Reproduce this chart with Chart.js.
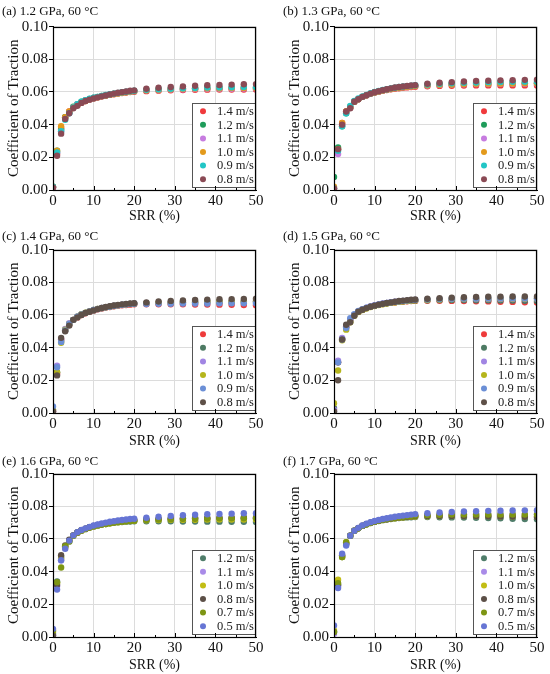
<!DOCTYPE html>
<html>
<head>
<meta charset="utf-8">
<script src="https://cdn.jsdelivr.net/npm/chart.js@4.4.1/dist/chart.umd.min.js"></script>
<style>
  body { margin: 0; background: #fff; }
  #wrap { position: relative; width: 550px; height: 674px; overflow: hidden; }
  .panel { position: absolute; }
</style>
</head>
<body>
<div id="wrap"></div>
<script>
// SRR (%) values where traction was measured
const srr = [0,1,2,3,4,5,6,7,8,9,10,11,12,13,14,15,16,17,18,19,20,23,26,29,32,35,38,41,44,47,50];

const panelTitles = [
  "(a) 1.2 GPa, 60 \u00B0C", "(b) 1.3 GPa, 60 \u00B0C",
  "(c) 1.4 GPa, 60 \u00B0C", "(d) 1.5 GPa, 60 \u00B0C",
  "(e) 1.6 GPa, 60 \u00B0C", "(f) 1.7 GPa, 60 \u00B0C"
];

const speedsHigh = ["1.4 m/s", "1.2 m/s", "1.1 m/s", "1.0 m/s", "0.9 m/s", "0.8 m/s"];
const speedsLow = ["1.2 m/s", "1.1 m/s", "1.0 m/s", "0.8 m/s", "0.7 m/s", "0.5 m/s"];

const colorsAB = ["#f0393c", "#1e9c5a", "#c77ce0", "#e39a1c", "#22c6c6", "#8a4a55"];
const colorsCD = ["#ee3b3b", "#4d7a63", "#a185e3", "#b5b51c", "#6b8fd6", "#5e5048"];
const colorsEF = ["#4f7d6a", "#a98be8", "#c2bd15", "#5c4f47", "#7d9514", "#6675d4"];

const yTicks = [0, 0.02, 0.04, 0.06, 0.08, 0.10];
const xTicks = [0, 10, 20, 30, 40, 50];

// (a) 1.2 GPa
const cotA = [
  [0.0015,0.022,0.038,0.0445,0.048,0.0505,0.052,0.0535,0.0545,0.0555,0.0562,0.0568,0.0573,0.0578,0.0582,0.0586,0.059,0.0593,0.0596,0.0599,0.0601,0.0605,0.0608,0.061,0.0612,0.0613,0.0614,0.0615,0.0615,0.0615,0.0615],
  [0.002,0.024,0.037,0.0445,0.0475,0.051,0.0525,0.054,0.055,0.0557,0.0565,0.057,0.0575,0.058,0.0585,0.0589,0.0593,0.0597,0.06,0.0603,0.0606,0.0612,0.0615,0.0618,0.062,0.0622,0.0623,0.0624,0.0625,0.0625,0.0626],
  [0.0015,0.023,0.036,0.044,0.047,0.0505,0.0525,0.0535,0.0548,0.0556,0.0563,0.0568,0.0574,0.0579,0.0584,0.0588,0.0592,0.0596,0.0599,0.0602,0.0605,0.061,0.0613,0.0615,0.0617,0.0618,0.0619,0.062,0.062,0.0621,0.0621],
  [0.002,0.024,0.039,0.0445,0.048,0.0505,0.052,0.0535,0.0545,0.0555,0.0562,0.0567,0.0573,0.0578,0.0583,0.0587,0.0591,0.0595,0.0598,0.0602,0.0605,0.061,0.0614,0.0617,0.0619,0.0621,0.0622,0.0623,0.0624,0.0625,0.0625],
  [0.002,0.023,0.036,0.043,0.047,0.0505,0.0525,0.054,0.055,0.0558,0.0565,0.057,0.0576,0.0581,0.0586,0.059,0.0594,0.0598,0.0601,0.0604,0.0607,0.0613,0.0617,0.062,0.0623,0.0625,0.0627,0.0628,0.0629,0.063,0.063],
  [0.0015,0.021,0.0345,0.0435,0.047,0.05,0.0515,0.0533,0.0545,0.0553,0.056,0.0567,0.0573,0.0579,0.0585,0.059,0.0595,0.0599,0.0603,0.0607,0.061,0.062,0.0626,0.063,0.0634,0.0638,0.0641,0.0643,0.0645,0.0647,0.0648]
];

// (b) 1.3 GPa
const cotB = [
  [0.001,0.025,0.041,0.048,0.0505,0.054,0.0555,0.057,0.058,0.059,0.0597,0.0602,0.0607,0.0612,0.0616,0.062,0.0623,0.0626,0.0628,0.063,0.0632,0.0635,0.0637,0.0638,0.0639,0.064,0.064,0.064,0.064,0.064,0.064],
  [0.008,0.026,0.039,0.047,0.051,0.054,0.0555,0.057,0.058,0.059,0.0598,0.0604,0.061,0.0615,0.062,0.0624,0.0627,0.063,0.0633,0.0636,0.0638,0.0642,0.0645,0.0647,0.0649,0.065,0.0651,0.0652,0.0652,0.0653,0.0653],
  [0.001,0.022,0.04,0.0475,0.0505,0.054,0.0555,0.057,0.058,0.059,0.0597,0.0603,0.0609,0.0614,0.0618,0.0622,0.0626,0.0629,0.0632,0.0634,0.0636,0.064,0.0643,0.0645,0.0647,0.0648,0.0649,0.065,0.065,0.0651,0.0651],
  [0.002,0.025,0.041,0.048,0.0505,0.054,0.0555,0.057,0.058,0.059,0.0597,0.0603,0.0609,0.0614,0.0618,0.0622,0.0626,0.0629,0.0632,0.0634,0.0636,0.0641,0.0644,0.0646,0.0648,0.065,0.0651,0.0652,0.0652,0.0653,0.0653],
  [0.001,0.024,0.039,0.047,0.0515,0.0545,0.056,0.0572,0.0582,0.0592,0.06,0.0606,0.0612,0.0617,0.0622,0.0626,0.063,0.0633,0.0636,0.0639,0.0641,0.0646,0.065,0.0653,0.0656,0.0658,0.066,0.0661,0.0662,0.0663,0.0663],
  [0.001,0.025,0.04,0.048,0.05,0.054,0.0555,0.057,0.058,0.059,0.0598,0.0605,0.0611,0.0617,0.0622,0.0627,0.063,0.0634,0.0637,0.064,0.0642,0.065,0.0656,0.066,0.0664,0.0667,0.0669,0.0671,0.0672,0.0674,0.0675]
];

// (c) 1.4 GPa
const cotC = [
  [0.001,0.024,0.045,0.0505,0.054,0.057,0.0585,0.06,0.061,0.062,0.0628,0.0635,0.064,0.0645,0.0649,0.0653,0.0656,0.0659,0.0661,0.0663,0.0665,0.0665,0.0665,0.0665,0.0665,0.0664,0.0664,0.0663,0.0662,0.0661,0.066],
  [0.002,0.025,0.044,0.0505,0.0545,0.057,0.059,0.0603,0.0613,0.0622,0.063,0.0637,0.0643,0.0648,0.0652,0.0656,0.066,0.0663,0.0666,0.0668,0.067,0.0672,0.0674,0.0676,0.0677,0.0678,0.0679,0.068,0.068,0.068,0.068],
  [0.001,0.029,0.045,0.0515,0.055,0.057,0.059,0.0603,0.0613,0.0622,0.063,0.0637,0.0643,0.0648,0.0652,0.0656,0.066,0.0663,0.0666,0.0668,0.067,0.0673,0.0676,0.0678,0.068,0.0681,0.0682,0.0683,0.0683,0.0684,0.0684],
  [0.002,0.025,0.043,0.051,0.0545,0.057,0.059,0.0605,0.0614,0.0622,0.063,0.0637,0.0642,0.0647,0.0651,0.0655,0.0659,0.0662,0.0665,0.0667,0.0669,0.0672,0.0675,0.0677,0.0679,0.068,0.0681,0.0682,0.0682,0.0683,0.0683],
  [0.004,0.028,0.0435,0.0505,0.0545,0.057,0.059,0.0603,0.0613,0.0622,0.063,0.0636,0.0642,0.0647,0.0651,0.0655,0.0659,0.0662,0.0665,0.0667,0.0669,0.0667,0.0668,0.0669,0.067,0.067,0.067,0.0671,0.0671,0.0671,0.0671],
  [0.001,0.023,0.046,0.05,0.0535,0.057,0.0585,0.06,0.0612,0.062,0.0628,0.0636,0.0643,0.0649,0.0654,0.0658,0.0662,0.0665,0.0668,0.067,0.0672,0.0677,0.0682,0.0686,0.0689,0.0692,0.0694,0.0696,0.0697,0.0698,0.0699]
];

// (d) 1.5 GPa
const cotD = [
  [0.002,0.031,0.045,0.053,0.057,0.06,0.062,0.0632,0.0642,0.065,0.0657,0.0662,0.0667,0.0671,0.0674,0.0677,0.068,0.0682,0.0684,0.0685,0.0686,0.0687,0.0687,0.0686,0.0685,0.0684,0.0683,0.0681,0.068,0.0678,0.0677],
  [0.003,0.031,0.0455,0.0525,0.0565,0.06,0.062,0.0632,0.0642,0.065,0.0657,0.0663,0.0668,0.0672,0.0676,0.0679,0.0682,0.0684,0.0686,0.0688,0.0689,0.069,0.0691,0.0691,0.0691,0.069,0.069,0.0689,0.0688,0.0687,0.0686],
  [0.002,0.032,0.046,0.053,0.057,0.06,0.0622,0.0634,0.0644,0.0652,0.0659,0.0665,0.067,0.0674,0.0678,0.0681,0.0684,0.0686,0.0688,0.069,0.0692,0.0694,0.0696,0.0697,0.0698,0.0698,0.0698,0.0698,0.0698,0.0698,0.0698],
  [0.006,0.026,0.0445,0.051,0.0555,0.0595,0.0618,0.063,0.064,0.0648,0.0655,0.0661,0.0666,0.067,0.0674,0.0677,0.068,0.0683,0.0685,0.0687,0.0689,0.0692,0.0695,0.0697,0.0699,0.07,0.07,0.0701,0.0701,0.0701,0.0701],
  [0.001,0.031,0.045,0.052,0.058,0.0605,0.0625,0.0635,0.0645,0.0652,0.0658,0.0664,0.0669,0.0673,0.0677,0.068,0.0683,0.0686,0.0688,0.069,0.0692,0.0695,0.0697,0.0699,0.07,0.0701,0.0702,0.0702,0.0703,0.0703,0.0703],
  [0.001,0.02,0.045,0.054,0.0555,0.0595,0.062,0.0632,0.0642,0.065,0.0657,0.0663,0.0668,0.0673,0.0677,0.0681,0.0685,0.0688,0.0691,0.0693,0.0695,0.0699,0.0703,0.0706,0.0708,0.071,0.0711,0.0712,0.0713,0.0713,0.0713]
];

// (e) 1.6 GPa
const cotE = [
  [0.002,0.034,0.049,0.0555,0.0585,0.062,0.0637,0.065,0.066,0.067,0.0677,0.0683,0.0688,0.0692,0.0696,0.0699,0.0702,0.0704,0.0706,0.0707,0.0708,0.0708,0.0708,0.0708,0.0707,0.0707,0.0706,0.0706,0.0705,0.0705,0.0704],
  [0.001,0.031,0.047,0.0545,0.059,0.0622,0.064,0.0653,0.0663,0.0672,0.068,0.0686,0.0691,0.0696,0.07,0.0704,0.0707,0.071,0.0712,0.0714,0.0716,0.0719,0.0721,0.0723,0.0724,0.0725,0.0725,0.0726,0.0726,0.0726,0.0726],
  [0.003,0.033,0.048,0.055,0.059,0.062,0.0638,0.0651,0.0661,0.067,0.0677,0.0683,0.0688,0.0692,0.0696,0.07,0.0703,0.0705,0.0708,0.071,0.0711,0.0714,0.0716,0.0717,0.0718,0.0718,0.0719,0.0719,0.0719,0.0719,0.0719],
  [0.001,0.032,0.05,0.056,0.0595,0.0622,0.064,0.0653,0.0663,0.0672,0.0679,0.0685,0.069,0.0695,0.0699,0.0703,0.0706,0.0709,0.0712,0.0714,0.0716,0.072,0.0723,0.0725,0.0727,0.0728,0.0729,0.073,0.073,0.0731,0.0731],
  [0.004,0.0335,0.0425,0.0555,0.0585,0.062,0.064,0.0652,0.0662,0.067,0.0677,0.0683,0.0688,0.0692,0.0696,0.07,0.0703,0.0706,0.0708,0.071,0.0712,0.0716,0.0719,0.0721,0.0723,0.0724,0.0725,0.0726,0.0727,0.0727,0.0727],
  [0.005,0.029,0.047,0.054,0.059,0.0622,0.0642,0.0655,0.0665,0.0674,0.0682,0.0689,0.0695,0.07,0.0705,0.0709,0.0713,0.0716,0.0719,0.0722,0.0724,0.073,0.0736,0.0741,0.0745,0.0748,0.0751,0.0753,0.0755,0.0757,0.0758]
];

// (f) 1.7 GPa
const cotF = [
  [0.003,0.032,0.049,0.057,0.062,0.065,0.0665,0.068,0.069,0.0698,0.0705,0.071,0.0715,0.0719,0.0722,0.0725,0.0728,0.073,0.0732,0.0733,0.0734,0.0734,0.0733,0.0732,0.0731,0.073,0.0728,0.0726,0.0724,0.0722,0.072],
  [0.002,0.031,0.05,0.057,0.062,0.065,0.0667,0.0682,0.0692,0.07,0.0707,0.0713,0.0718,0.0722,0.0726,0.073,0.0733,0.0736,0.0739,0.0741,0.0743,0.0746,0.0748,0.075,0.0751,0.0752,0.0752,0.0752,0.0752,0.0752,0.0752],
  [0.004,0.035,0.049,0.058,0.062,0.065,0.0665,0.068,0.069,0.0698,0.0705,0.0711,0.0716,0.072,0.0724,0.0727,0.073,0.0732,0.0734,0.0736,0.0737,0.0739,0.074,0.074,0.074,0.074,0.074,0.0739,0.0738,0.0737,0.0736],
  [0.003,0.032,0.05,0.057,0.062,0.065,0.0666,0.068,0.069,0.0699,0.0706,0.0712,0.0717,0.0721,0.0725,0.0729,0.0732,0.0734,0.0736,0.0738,0.074,0.0741,0.0741,0.0741,0.074,0.074,0.0739,0.0738,0.0737,0.0736,0.0735],
  [0.003,0.033,0.049,0.058,0.062,0.065,0.0666,0.068,0.069,0.0699,0.0706,0.0712,0.0717,0.0722,0.0726,0.073,0.0733,0.0736,0.0739,0.0741,0.0743,0.0746,0.0748,0.0749,0.075,0.075,0.075,0.075,0.075,0.0749,0.0749],
  [0.007,0.03,0.051,0.056,0.062,0.065,0.0668,0.0683,0.0694,0.0703,0.071,0.0716,0.0722,0.0727,0.0732,0.0736,0.074,0.0743,0.0746,0.0749,0.0752,0.0757,0.0762,0.0765,0.0768,0.077,0.0772,0.0773,0.0774,0.0775,0.0776]
];

const panels = [
  { title: panelTitles[0], data: cotA, names: speedsHigh, colors: colorsAB },
  { title: panelTitles[1], data: cotB, names: speedsHigh, colors: colorsAB },
  { title: panelTitles[2], data: cotC, names: speedsHigh, colors: colorsCD },
  { title: panelTitles[3], data: cotD, names: speedsHigh, colors: colorsCD },
  { title: panelTitles[4], data: cotE, names: speedsLow, colors: colorsEF },
  { title: panelTitles[5], data: cotF, names: speedsLow, colors: colorsEF }
];

const serif = "'Liberation Serif', 'Times New Roman', serif";

// frame around the plot, small inward ticks on the x axis
const frameTicks = {
  id: 'frameTicks',
  afterDraw(chart) {
    const { ctx, chartArea: a, scales: { x } } = chart;
    ctx.save();
    ctx.strokeStyle = '#000';
    ctx.lineWidth = 1;
    ctx.beginPath();
    for (let v = 5; v < 50; v += 5) {
      const px = Math.round(x.getPixelForValue(v)) + 0.5;
      const len = v % 10 === 0 ? 4 : 2;
      ctx.moveTo(px, a.bottom); ctx.lineTo(px, a.bottom - len);
    }
    ctx.stroke();
    ctx.lineWidth = 1.2;
    ctx.strokeRect(Math.round(a.left) + 0.5, Math.round(a.top) + 0.5,
      Math.round(a.right - a.left) - 1, Math.round(a.bottom - a.top));
    ctx.restore();
  }
};

// legend box in the lower right corner of the plot
const cornerLegend = {
  id: 'cornerLegend',
  afterDatasetsDraw(chart) {
    const { ctx, chartArea: a } = chart;
    const sets = chart.data.datasets;
    const w = 63, rowH = 13.6, h = rowH * sets.length + 2;
    const left = a.right - w - 1, top = a.bottom - h - 3;
    ctx.save();
    ctx.fillStyle = '#fff';
    ctx.fillRect(left, top, w, h);
    ctx.strokeStyle = '#555';
    ctx.lineWidth = 1;
    ctx.strokeRect(Math.round(left) + 0.5, Math.round(top) + 0.5, w, Math.round(h));
    ctx.font = "12.5px " + serif;
    ctx.textBaseline = 'middle';
    sets.forEach((ds, i) => {
      const cy = top + 1 + rowH * (i + 0.5);
      ctx.fillStyle = ds.backgroundColor;
      ctx.beginPath();
      ctx.arc(left + 11, cy, 3, 0, Math.PI * 2);
      ctx.fill();
      ctx.fillStyle = '#222';
      ctx.fillText(ds.label, left + 25, cy + 0.5);
    });
    ctx.restore();
  }
};

const wrap = document.getElementById('wrap');

panels.forEach((p, idx) => {
  const col = idx % 2, row = Math.floor(idx / 2);
  const panelH = row === 2 ? 224 : 225;
  const div = document.createElement('div');
  div.className = 'panel';
  div.style.left = (col * 275) + 'px';
  div.style.top = (row * 225) + 'px';
  const canvas = document.createElement('canvas');
  canvas.width = 275;
  canvas.height = panelH;
  div.appendChild(canvas);
  wrap.appendChild(div);

  const padLeft = col === 0 ? 2 : 8;
  const padRight = col === 0 ? 19 : 13;
  const xAxisH = row === 0 ? 35 : 37;
  const titleBottom = row === 0 ? 7 : (row === 1 ? 5 : 4);
  const n = p.data.length;

  const datasets = p.data.map((vals, i) => ({
    label: p.names[i],
    data: srr.map((s, j) => ({ x: s, y: vals[j] })),
    backgroundColor: p.colors[i],
    borderColor: p.colors[i],
    pointRadius: 3.2,
    pointBorderWidth: 0,
    pointHoverRadius: 3.2,
    order: n - i,
    clip: 0
  }));

  new Chart(canvas, {
    type: 'scatter',
    data: { datasets },
    plugins: [cornerLegend, frameTicks],
    options: {
      responsive: false,
      animation: false,
      events: [],
      layout: { padding: { left: padLeft, right: padRight, top: 0, bottom: 0 } },
      plugins: {
        legend: { display: false },
        tooltip: { enabled: false },
        title: {
          display: true,
          text: p.title,
          align: 'start',
          color: '#111',
          font: { family: serif, size: 13, weight: 'normal' },
          padding: { top: 4, bottom: titleBottom }
        }
      },
      scales: {
        x: {
          type: 'linear',
          min: 0, max: 50,
          afterBuildTicks: (s) => { s.ticks = xTicks.map(v => ({ value: v })); },
          afterFit: (s) => { s.height = xAxisH; },
          ticks: { color: '#111', font: { family: serif, size: 15 }, padding: 2, maxRotation: 0 },
          grid: { color: '#dcdcdc', lineWidth: 1, drawTicks: false },
          border: { color: '#000', width: 1 },
          title: {
            display: true, text: 'SRR (%)', color: '#111',
            font: { family: serif, size: 14 }, padding: { top: 0, bottom: 0 }
          }
        },
        y: {
          type: 'linear',
          min: 0, max: 0.1,
          afterBuildTicks: (s) => { s.ticks = yTicks.map(v => ({ value: v })); },
          afterFit: (s) => { s.width = 51; },
          ticks: {
            color: '#111', font: { family: serif, size: 15 }, padding: 1,
            callback: (v) => Number(v).toFixed(2)
          },
          grid: { color: '#dcdcdc', lineWidth: 1, drawTicks: true, tickLength: 4, tickColor: '#000' },
          border: { color: '#000', width: 1 },
          title: {
            display: true, text: 'Coefficient of Traction', color: '#111',
            font: { family: serif, size: 15 }, padding: { top: 3, bottom: 0 }
          }
        }
      }
    }
  });
});
</script>
</body>
</html>
